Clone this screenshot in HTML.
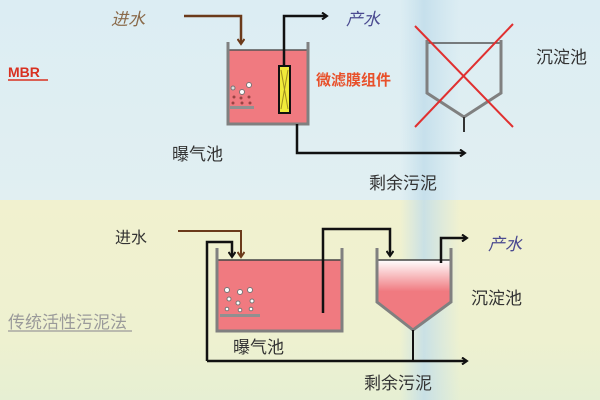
<!DOCTYPE html>
<html><head><meta charset="utf-8"><style>
html,body{margin:0;padding:0;width:600px;height:400px;overflow:hidden}
text{font-family:"Liberation Sans","Noto Sans CJK SC",sans-serif}
</style></head><body>
<svg width="600" height="400" viewBox="0 0 600 400" xmlns="http://www.w3.org/2000/svg">
<defs>
<linearGradient id="bg1" x1="0" y1="0" x2="0" y2="1"><stop offset="0" stop-color="#dcedf3"/><stop offset="1" stop-color="#e1eff2"/></linearGradient>
<linearGradient id="bg2" x1="0" y1="0" x2="0" y2="1"><stop offset="0" stop-color="#f1f1cf"/><stop offset="0.7" stop-color="#eef1d0"/><stop offset="1" stop-color="#e6efd3"/></linearGradient>
<linearGradient id="col" x1="0" y1="0" x2="1" y2="0"><stop offset="0" stop-color="#c5e0ec" stop-opacity="0"/><stop offset="0.4" stop-color="#c0dcea" stop-opacity="0.8"/><stop offset="1" stop-color="#c5e0ec" stop-opacity="0"/></linearGradient>
<linearGradient id="set" x1="0" y1="0" x2="0" y2="1"><stop offset="0" stop-color="#ffffff"/><stop offset="0.45" stop-color="#f07a80"/><stop offset="1" stop-color="#f07a80"/></linearGradient>
<marker id="ab" markerWidth="8" markerHeight="8" refX="6" refY="4" orient="auto" markerUnits="userSpaceOnUse"><path d="M1,0.5 L6,4 L1,7.5" fill="none" stroke="#111" stroke-width="2"/></marker>
<marker id="abr" markerWidth="8" markerHeight="8" refX="6" refY="4" orient="auto" markerUnits="userSpaceOnUse"><path d="M1,0.5 L6,4 L1,7.5" fill="none" stroke="#6b3a1a" stroke-width="2"/></marker>
</defs>
<rect x="0" y="0" width="600" height="200" fill="url(#bg1)"/>
<rect x="0" y="200" width="600" height="200" fill="url(#bg2)"/>
<rect x="400" y="0" width="60" height="400" fill="url(#col)"/>

<!-- TOP -->
<text x="111" y="25" font-size="17" fill="#8a6a4a" font-style="italic">进水</text>
<polyline points="184,16 241,16 241,44" fill="none" stroke="#6b3a1a" stroke-width="2.5" marker-end="url(#abr)"/>
<rect x="229" y="50" width="78" height="73" fill="#f07a80"/>
<line x1="229" y1="50" x2="307" y2="50" stroke="#555" stroke-width="1.5"/>
<polyline points="228,42 228,124 308,124 308,42" fill="none" stroke="#808080" stroke-width="3"/>
<circle cx="233" cy="88" r="2" fill="#ddd" stroke="#777"/><circle cx="242" cy="92" r="2.5" fill="#fff" stroke="#777"/><circle cx="249" cy="85" r="2.5" fill="#fff" stroke="#777"/>
<circle cx="234" cy="97" r="1.5" fill="#944"/><circle cx="241" cy="98" r="1.5" fill="#944"/><circle cx="249" cy="97" r="1.5" fill="#944"/>
<circle cx="233" cy="103" r="1.5" fill="#944"/><circle cx="242" cy="103" r="1.5" fill="#944"/><circle cx="250" cy="103" r="1.5" fill="#944"/>
<rect x="230" y="106" width="24" height="3" fill="#909090"/>
<polyline points="284,65 284,16 327,16" fill="none" stroke="#111" stroke-width="2.5" marker-end="url(#ab)"/>
<rect x="279" y="66" width="11" height="47" fill="#f0ea3a" stroke="#111" stroke-width="2"/>
<path d="M281,70 L288,109 M288,70 L281,109" stroke="#a09020" stroke-width="1"/>
<text x="346" y="25" font-size="17" fill="#4a4a90" font-style="italic">产水</text>
<polyline points="297,124 297,153 465,153" fill="none" stroke="#111" stroke-width="2.5" marker-end="url(#ab)"/>
<text x="316" y="85" font-size="15" fill="#e8502a" font-weight="bold">微滤膜组件</text>
<text x="8" y="77" font-size="14" fill="#d83020" font-weight="bold">MBR</text>
<line x1="8" y1="80" x2="48" y2="80" stroke="#d83020" stroke-width="1.5"/>
<text x="172" y="160" font-size="17" fill="#333">曝气池</text>
<text x="369" y="189" font-size="17" fill="#333">剩余污泥</text>
<text x="536" y="63" font-size="17" fill="#333">沉淀池</text>
<line x1="428" y1="43" x2="501" y2="43" stroke="#555" stroke-width="1.5"/>
<polyline points="427,40 427,93 464,117 501,93 501,40" fill="none" stroke="#808080" stroke-width="3"/>
<line x1="464" y1="117" x2="464" y2="132" stroke="#333" stroke-width="2"/>
<line x1="415" y1="26" x2="513" y2="127" stroke="#e03030" stroke-width="2"/>
<line x1="513" y1="24" x2="415" y2="127" stroke="#e03030" stroke-width="2"/>

<!-- BOTTOM -->
<text x="115" y="243" font-size="16" fill="#333">进水</text>
<rect x="218" y="260" width="124" height="71" fill="#f07a80"/>
<line x1="218" y1="260" x2="342" y2="260" stroke="#444" stroke-width="1.5"/>
<polyline points="217,248 217,331 342,331 342,248" fill="none" stroke="#808080" stroke-width="3"/>
<polyline points="178,231 241,231 241,257" fill="none" stroke="#6b3a1a" stroke-width="2" marker-end="url(#abr)"/>
<polyline points="207,361 207,242 232,242 232,257" fill="none" stroke="#111" stroke-width="2.5" marker-end="url(#ab)"/>
<circle cx="227" cy="290" r="2.5" fill="#fff" stroke="#777"/><circle cx="240" cy="292" r="2.5" fill="#fff" stroke="#777"/><circle cx="250" cy="290" r="2.5" fill="#fff" stroke="#777"/>
<circle cx="229" cy="299" r="2" fill="#fff" stroke="#777"/><circle cx="238" cy="303" r="2" fill="#fff" stroke="#777"/><circle cx="252" cy="301" r="2" fill="#fff" stroke="#777"/>
<circle cx="227" cy="309" r="1.8" fill="#fff" stroke="#777"/><circle cx="240" cy="310" r="1.8" fill="#fff" stroke="#777"/><circle cx="251" cy="309" r="1.8" fill="#fff" stroke="#777"/>
<rect x="220" y="314" width="40" height="3" fill="#909090"/>
<polyline points="323,313 323,229 390,229 390,256" fill="none" stroke="#111" stroke-width="2.5" marker-end="url(#ab)"/>
<polygon points="378,260 450,260 450,302 413,330 378,302" fill="url(#set)"/>
<line x1="378" y1="260" x2="450" y2="260" stroke="#444" stroke-width="1.5"/>
<polyline points="377,248 377,302 413,330 451,302 451,248" fill="none" stroke="#808080" stroke-width="3"/>
<line x1="413" y1="330" x2="413" y2="361" stroke="#111" stroke-width="2"/>
<polyline points="207,361 467,361" fill="none" stroke="#111" stroke-width="2.5" marker-end="url(#ab)"/>
<polyline points="441,263 441,238 467,238" fill="none" stroke="#111" stroke-width="2.5" marker-end="url(#ab)"/>
<text x="488" y="250" font-size="17" fill="#4a4a90" font-style="italic">产水</text>
<text x="471" y="304" font-size="17" fill="#333">沉淀池</text>
<text x="233" y="353" font-size="17" fill="#333">曝气池</text>
<text x="364" y="389" font-size="17" fill="#333">剩余污泥</text>
<text x="8" y="328" font-size="17" fill="#9a9a9a">传统活性污泥法</text>
<line x1="8" y1="331" x2="132" y2="331" stroke="#9a9a9a" stroke-width="1.2"/>
</svg>
</body></html>
